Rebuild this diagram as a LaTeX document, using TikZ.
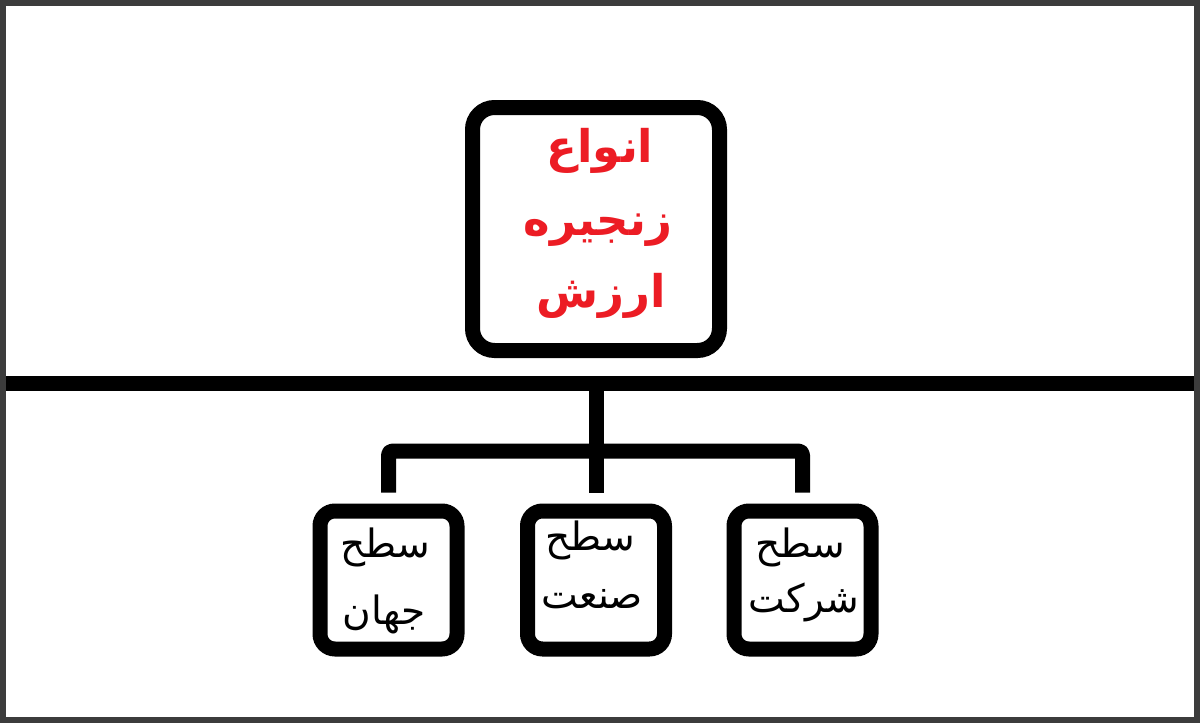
\documentclass[tikz,border=0pt]{standalone}
\usepackage{fontspec}
\newfontfamily\arabicfont[Script=Arabic]{DejaVu Sans}
\TeXXeTstate=1
\usetikzlibrary{positioning}
\definecolor{titlered}{RGB}{236,28,36}
\definecolor{framegray}{RGB}{60,60,60}
\newcommand{\rtlline}[1]{\beginR #1\endR}

\begin{document}
\begin{tikzpicture}[x=1pt,y=-1pt,line width=15pt,
    topbox/.style={draw,rounded corners=22pt,minimum width=247pt,minimum height=243pt,inner sep=0pt},
    toptext/.style={anchor=base,inner sep=0pt,text=titlered,font=\arabicfont\bfseries\fontsize{45}{54}\selectfont},
    levelbox/.style={draw,rounded corners=15pt,minimum width=137pt,minimum height=138pt,inner sep=0pt},
    leveltext/.style={anchor=base,inner sep=0pt,font=\arabicfont\fontsize{39}{47}\selectfont},
    link/.style={line cap=butt,line join=round,rounded corners=4pt}]
    \useasboundingbox (0,0) rectangle (1200,723);
    \fill[white] (0,0) rectangle (1200,723);

    \coordinate (lineW) at (0,383);
    \coordinate (lineE) at (1200,383);
    \coordinate (hub) at (596,383);
    \coordinate (fork) at (596,451);

    % main box
    \node[topbox] (types) at (596,229) {};
    \node[toptext] (typesA) at (600,162) {\rtlline{انواع}};
    \node[toptext] (typesB) at (598,235) {\rtlline{زنجیره}};
    \node[toptext] (typesC) at (601,307) {\rtlline{ارزش}};

    % three levels
    \node[levelbox] (world) at (388.5,580) {};
    \node[levelbox] (industry) at (596,580) {};
    \node[levelbox] (firm) at (802.5,580) {};

    \node[leveltext] (worldA) at (385,557) {\rtlline{سطح}};
    \node[leveltext] (worldB) at (384,624) {\rtlline{جهان}};
    \node[leveltext] (industryA) at (590,550) {\rtlline{سطح}};
    \node[leveltext] (industryB) at (592,608) {\rtlline{صنعت}};
    \node[leveltext] (firmA) at (800,557) {\rtlline{سطح}};
    \node[leveltext] (firmB) at (804,612) {\rtlline{شرکت}};

    \draw[link] (lineW) -- (lineE);
    \draw[link] (hub) -- ([yshift=11pt]industry.north);
    \draw[link] ([yshift=11pt]world.north) |- (fork) -| ([yshift=11pt]firm.north);

    \draw[framegray,line width=6pt] (3,3) rectangle (1197,720);
\end{tikzpicture}
\end{document}
